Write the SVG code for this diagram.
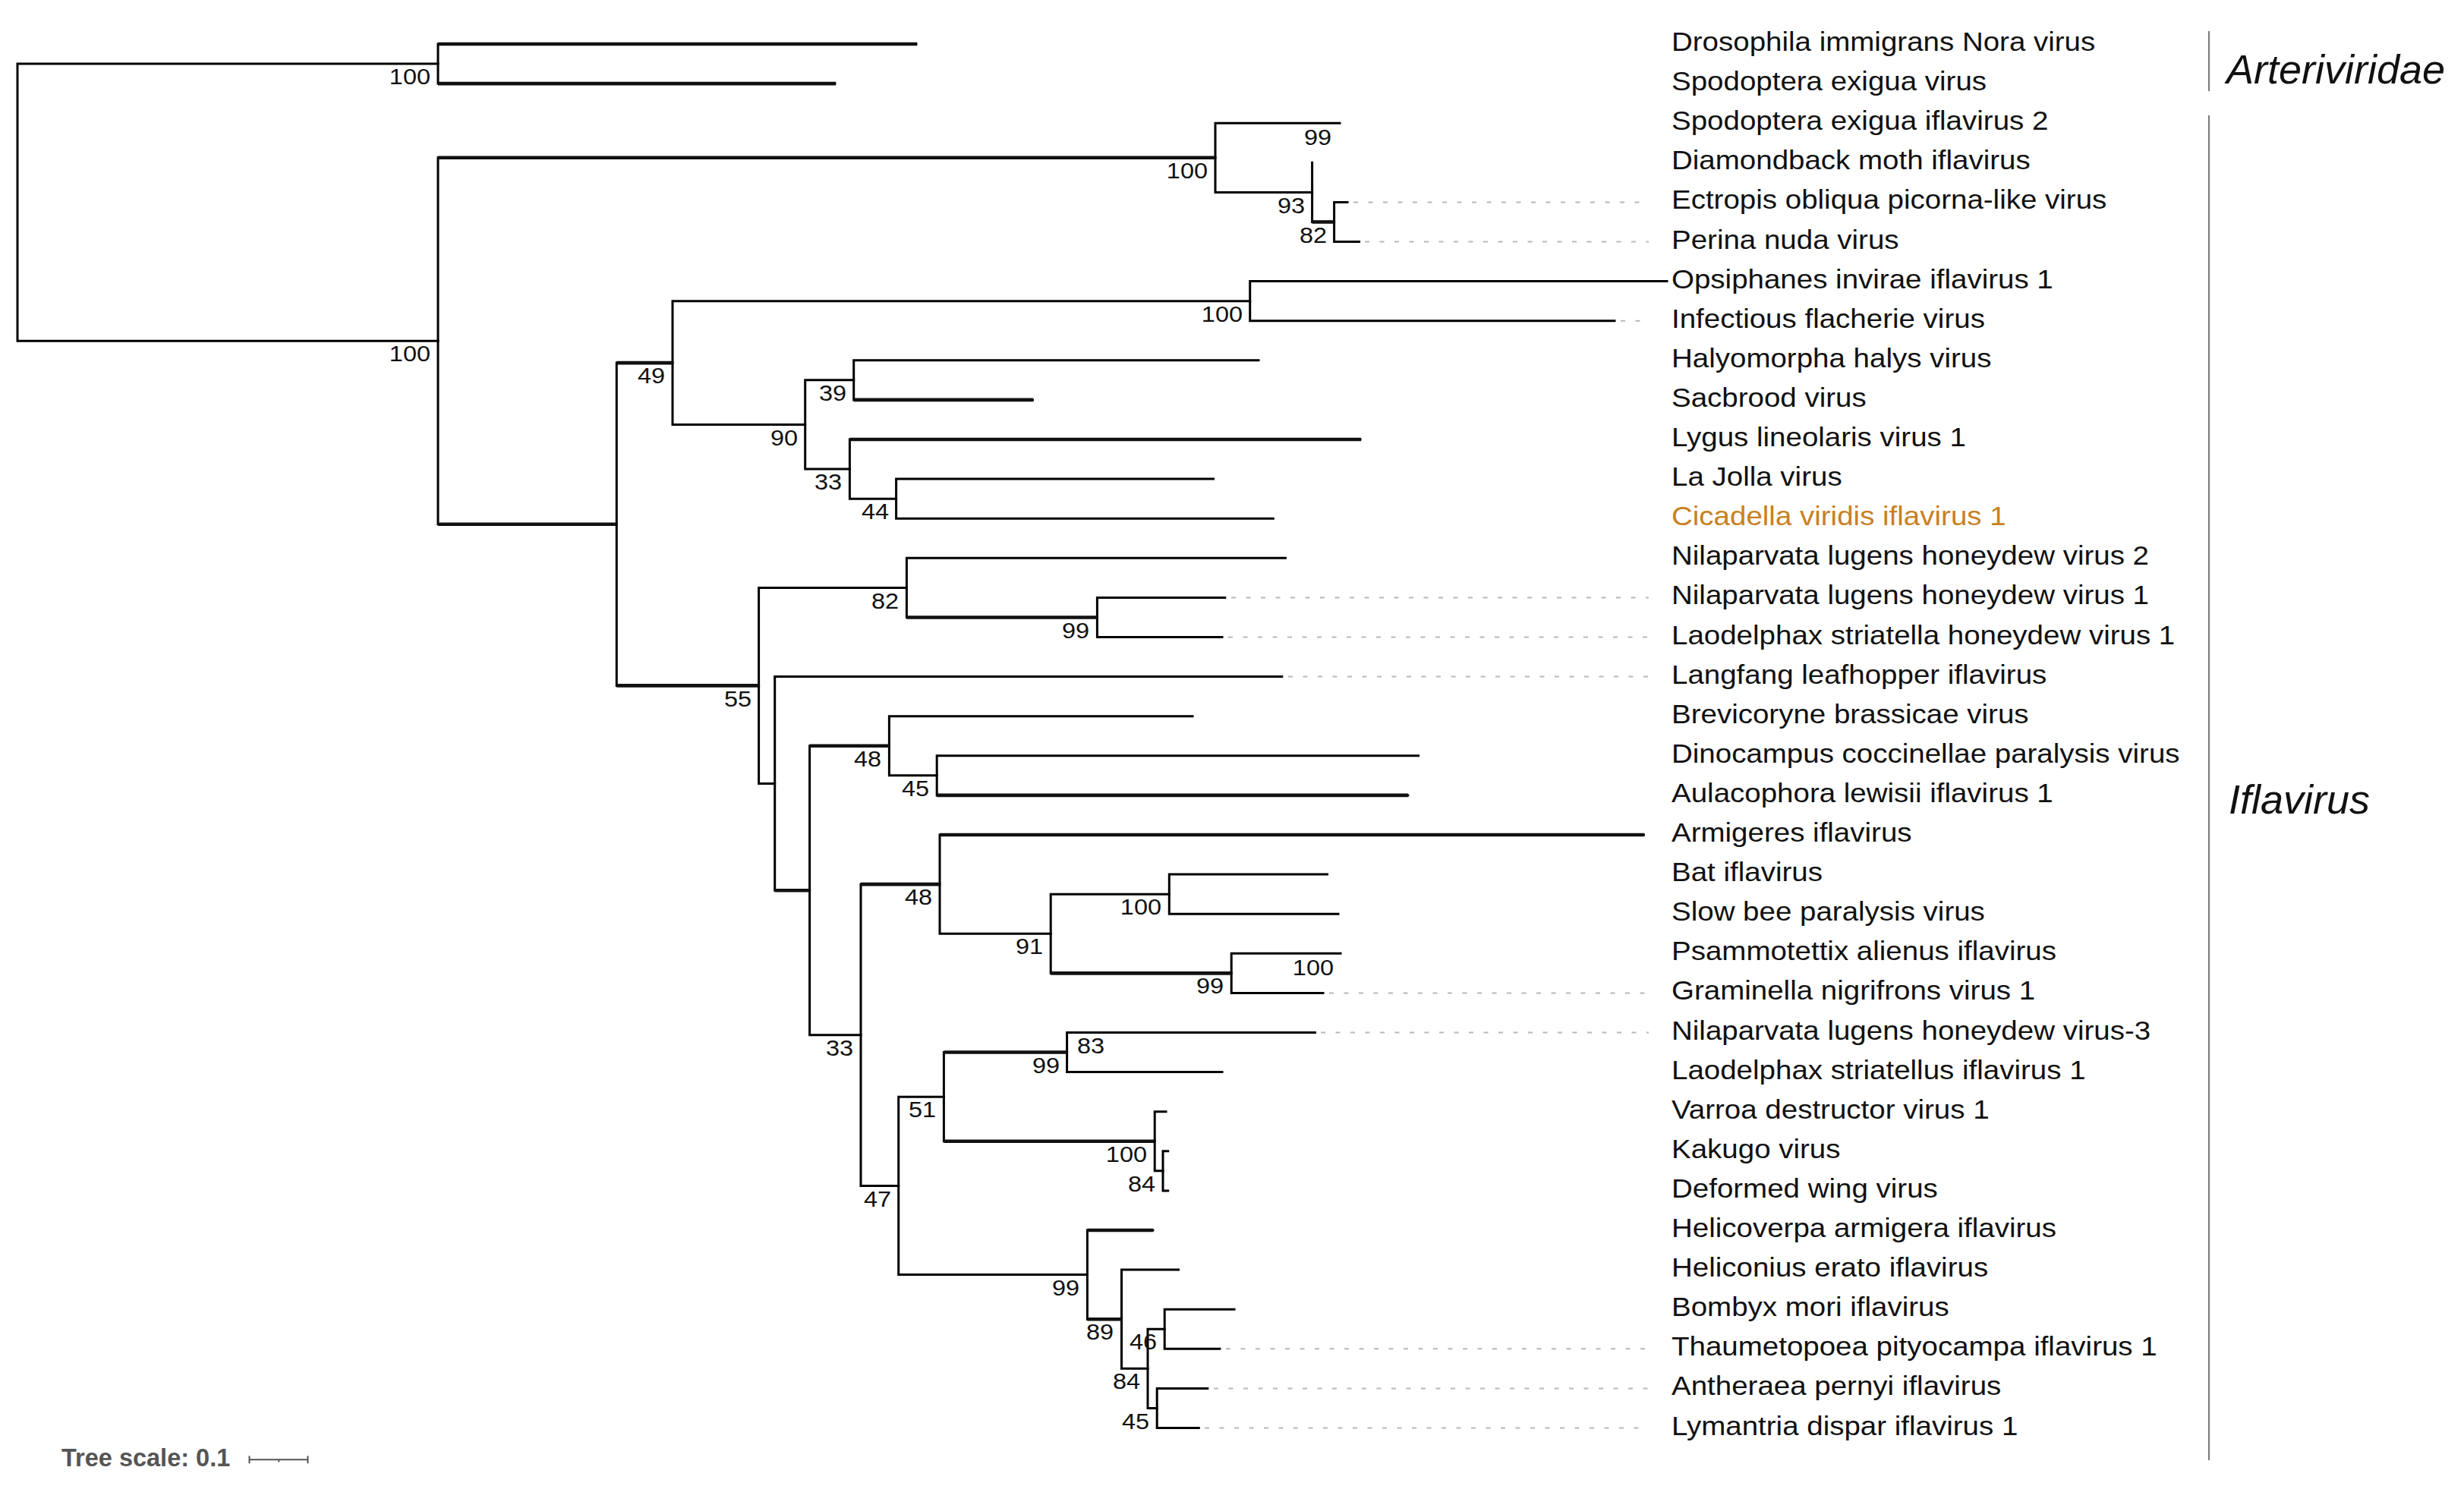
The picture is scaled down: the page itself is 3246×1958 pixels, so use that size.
<svg xmlns="http://www.w3.org/2000/svg" width="3246" height="1958" viewBox="0 0 3246 1958">
<style>
.br{fill:none;stroke:#000;stroke-width:3;stroke-linecap:square;stroke-linejoin:miter}
.tk{fill:none;stroke:#111;stroke-width:4.6;stroke-linecap:butt}
.dot{fill:none;stroke:#b8b8b8;stroke-width:2;stroke-dasharray:6 13.5}
.lf{font-family:"Liberation Sans",Arial,sans-serif;font-size:35px;fill:#111}
.bs{font-family:"Liberation Sans",Arial,sans-serif;font-size:29.5px;fill:#111;text-anchor:end}
.fam{font-family:"Liberation Sans",Arial,sans-serif;font-size:54px;font-style:italic;fill:#111}
.sep{stroke:#777;stroke-width:2}
</style>
<rect width="3246" height="1958" fill="#fff"/>
<g id="connectors">
<path class="br" d="M577,84.05 H23 V449.3 H577"/>
<path class="br" d="M1207,58 H577 V110.1 H1100"/>
<path class="br" d="M1601,207.8 H577 V690.75 H812.3"/>
<path class="br" d="M1765,162.2 H1601 V253.4 H1728.6"/>
<path class="br" d="M1728.6,214.3 V292.45 H1757.6"/>
<path class="br" d="M1775,266.4 H1757.6 V318.5 H1790.5"/>
<path class="br" d="M886,478.1 H812.3 V903.4 H999.6"/>
<path class="br" d="M1646.7,396.65 H886 V559.5 H1060.7"/>
<path class="br" d="M2196,370.6 H1646.7 V422.7 H2127"/>
<path class="br" d="M1124.7,500.85 H1060.7 V618.1 H1119.4"/>
<path class="br" d="M1658,474.8 H1124.7 V526.9 H1360.5"/>
<path class="br" d="M1792,579 H1119.4 V657.15 H1180.6"/>
<path class="br" d="M1598.5,631.1 H1180.6 V683.2 H1677.3"/>
<path class="br" d="M1194.4,774.4 H999.6 V1032.45 H1020.7"/>
<path class="br" d="M1693.4,735.3 H1194.4 V813.45 H1445.4"/>
<path class="br" d="M1613.8,787.4 H1445.4 V839.5 H1610"/>
<path class="br" d="M1688.8,891.6 H1020.7 V1173.3 H1066.6"/>
<path class="br" d="M1171.4,982.8 H1066.6 V1363.75 H1134"/>
<path class="br" d="M1571,943.7 H1171.4 V1021.85 H1234.2"/>
<path class="br" d="M1868.6,995.8 H1234.2 V1047.9 H1854.8"/>
<path class="br" d="M1238,1165.1 H1134 V1562.4 H1183.7"/>
<path class="br" d="M2165.5,1100 H1238 V1230.25 H1384.2"/>
<path class="br" d="M1540.3,1178.15 H1384.2 V1282.35 H1622.2"/>
<path class="br" d="M1748.5,1152.1 H1540.3 V1204.2 H1763"/>
<path class="br" d="M1766,1256.3 H1622.2 V1308.4 H1743"/>
<path class="br" d="M1243.4,1445.2 H1183.7 V1679.6 H1432.4"/>
<path class="br" d="M1405.6,1386.55 H1243.4 V1503.8 H1521.2"/>
<path class="br" d="M1732.4,1360.5 H1405.6 V1412.6 H1610"/>
<path class="br" d="M1536,1464.7 H1521.2 V1542.85 H1532"/>
<path class="br" d="M1538.7,1516.8 H1532 V1568.9 H1538.7"/>
<path class="br" d="M1518.9,1621 H1432.4 V1738.2 H1477.5"/>
<path class="br" d="M1552.5,1673.1 H1477.5 V1803.35 H1512"/>
<path class="br" d="M1534.2,1751.25 H1512 V1855.45 H1524.2"/>
<path class="br" d="M1626,1725.2 H1534.2 V1777.3 H1606.9"/>
<path class="br" d="M1590.8,1829.4 H1524.2 V1881.5 H1579.3"/>
<g id="thick-branches">
<path class="tk" d="M577,58 H1208"/>
<path class="tk" d="M577,110.1 H1101"/>
<path class="tk" d="M577,207.8 H1601"/>
<path class="tk" d="M577,690.75 H812.3"/>
<path class="tk" d="M812.3,478.1 H886"/>
<path class="tk" d="M812.3,903.4 H999.6"/>
<path class="tk" d="M1728.6,292.45 H1757.6"/>
<path class="tk" d="M1124.7,526.9 H1361"/>
<path class="tk" d="M1119.4,579 H1793"/>
<path class="tk" d="M1194.4,813.45 H1445.4"/>
<path class="tk" d="M1020.7,1173.3 H1066.6"/>
<path class="tk" d="M1066.6,982.8 H1171.4"/>
<path class="tk" d="M1234.2,1047.9 H1855"/>
<path class="tk" d="M1134,1165.1 H1238"/>
<path class="tk" d="M1238,1100 H2166"/>
<path class="tk" d="M1384.2,1282.35 H1622.2"/>
<path class="tk" d="M1243.4,1386.55 H1405.6"/>
<path class="tk" d="M1243.4,1503.8 H1521.2"/>
<path class="tk" d="M1432.4,1621 H1519"/>
<path class="tk" d="M1432.4,1738.2 H1477.5"/>
</g>
<g id="leader-lines">
<path class="dot" d="M1783,266.4 H2172"/>
<path class="dot" d="M1798,318.5 H2172"/>
<path class="dot" d="M2135,422.7 H2172"/>
<path class="dot" d="M1622,787.4 H2172"/>
<path class="dot" d="M1618,839.5 H2172"/>
<path class="dot" d="M1697,891.6 H2172"/>
<path class="dot" d="M1751,1308.4 H2172"/>
<path class="dot" d="M1740,1360.5 H2172"/>
<path class="dot" d="M1615,1777.3 H2172"/>
<path class="dot" d="M1599,1829.4 H2172"/>
<path class="dot" d="M1587,1881.5 H2172"/>
</g>
</g>
<g id="leaves">
<g id="leaf-0"><text class="lf" transform="translate(2202,67) scale(1.1,1)">Drosophila immigrans Nora virus</text></g>
<g id="leaf-1"><text class="lf" transform="translate(2202,119.1) scale(1.1,1)">Spodoptera exigua virus</text></g>
<g id="leaf-2"><text class="lf" transform="translate(2202,171.2) scale(1.1,1)">Spodoptera exigua iflavirus 2</text></g>
<g id="leaf-3"><text class="lf" transform="translate(2202,223.3) scale(1.1,1)">Diamondback moth iflavirus</text></g>
<g id="leaf-4"><text class="lf" transform="translate(2202,275.4) scale(1.1,1)">Ectropis obliqua picorna-like virus</text></g>
<g id="leaf-5"><text class="lf" transform="translate(2202,327.5) scale(1.1,1)">Perina nuda virus</text></g>
<g id="leaf-6"><text class="lf" transform="translate(2202,379.6) scale(1.1,1)">Opsiphanes invirae iflavirus 1</text></g>
<g id="leaf-7"><text class="lf" transform="translate(2202,431.7) scale(1.1,1)">Infectious flacherie virus</text></g>
<g id="leaf-8"><text class="lf" transform="translate(2202,483.8) scale(1.1,1)">Halyomorpha halys virus</text></g>
<g id="leaf-9"><text class="lf" transform="translate(2202,535.9) scale(1.1,1)">Sacbrood virus</text></g>
<g id="leaf-10"><text class="lf" transform="translate(2202,588) scale(1.1,1)">Lygus lineolaris virus 1</text></g>
<g id="leaf-11"><text class="lf" transform="translate(2202,640.1) scale(1.1,1)">La Jolla virus</text></g>
<g id="leaf-12"><text class="lf" transform="translate(2202,692.2) scale(1.1,1)" style="fill:#c9801f">Cicadella viridis iflavirus 1</text></g>
<g id="leaf-13"><text class="lf" transform="translate(2202,744.3) scale(1.1,1)">Nilaparvata lugens honeydew virus 2</text></g>
<g id="leaf-14"><text class="lf" transform="translate(2202,796.4) scale(1.1,1)">Nilaparvata lugens honeydew virus 1</text></g>
<g id="leaf-15"><text class="lf" transform="translate(2202,848.5) scale(1.1,1)">Laodelphax striatella honeydew virus 1</text></g>
<g id="leaf-16"><text class="lf" transform="translate(2202,900.6) scale(1.1,1)">Langfang leafhopper iflavirus</text></g>
<g id="leaf-17"><text class="lf" transform="translate(2202,952.7) scale(1.1,1)">Brevicoryne brassicae virus</text></g>
<g id="leaf-18"><text class="lf" transform="translate(2202,1004.8) scale(1.1,1)">Dinocampus coccinellae paralysis virus</text></g>
<g id="leaf-19"><text class="lf" transform="translate(2202,1056.9) scale(1.1,1)">Aulacophora lewisii iflavirus 1</text></g>
<g id="leaf-20"><text class="lf" transform="translate(2202,1109) scale(1.1,1)">Armigeres iflavirus</text></g>
<g id="leaf-21"><text class="lf" transform="translate(2202,1161.1) scale(1.1,1)">Bat iflavirus</text></g>
<g id="leaf-22"><text class="lf" transform="translate(2202,1213.2) scale(1.1,1)">Slow bee paralysis virus</text></g>
<g id="leaf-23"><text class="lf" transform="translate(2202,1265.3) scale(1.1,1)">Psammotettix alienus iflavirus</text></g>
<g id="leaf-24"><text class="lf" transform="translate(2202,1317.4) scale(1.1,1)">Graminella nigrifrons virus 1</text></g>
<g id="leaf-25"><text class="lf" transform="translate(2202,1369.5) scale(1.1,1)">Nilaparvata lugens honeydew virus-3</text></g>
<g id="leaf-26"><text class="lf" transform="translate(2202,1421.6) scale(1.1,1)">Laodelphax striatellus iflavirus 1</text></g>
<g id="leaf-27"><text class="lf" transform="translate(2202,1473.7) scale(1.1,1)">Varroa destructor virus 1</text></g>
<g id="leaf-28"><text class="lf" transform="translate(2202,1525.8) scale(1.1,1)">Kakugo virus</text></g>
<g id="leaf-29"><text class="lf" transform="translate(2202,1577.9) scale(1.1,1)">Deformed wing virus</text></g>
<g id="leaf-30"><text class="lf" transform="translate(2202,1630) scale(1.1,1)">Helicoverpa armigera iflavirus</text></g>
<g id="leaf-31"><text class="lf" transform="translate(2202,1682.1) scale(1.1,1)">Heliconius erato iflavirus</text></g>
<g id="leaf-32"><text class="lf" transform="translate(2202,1734.2) scale(1.1,1)">Bombyx mori iflavirus</text></g>
<g id="leaf-33"><text class="lf" transform="translate(2202,1786.3) scale(1.1,1)">Thaumetopoea pityocampa iflavirus 1</text></g>
<g id="leaf-34"><text class="lf" transform="translate(2202,1838.4) scale(1.1,1)">Antheraea pernyi iflavirus</text></g>
<g id="leaf-35"><text class="lf" transform="translate(2202,1890.5) scale(1.1,1)">Lymantria dispar iflavirus 1</text></g>
</g>
<g id="support-values">
<g id="node-A"><text class="bs" transform="translate(567,111) scale(1.1,1)">100</text></g>
<g id="node-B"><text class="bs" transform="translate(567,476) scale(1.1,1)">100</text></g>
<g id="node-C"><text class="bs" transform="translate(1591,235) scale(1.1,1)">100</text></g>
<g id="node-C2"><text class="bs" transform="translate(1754,191) scale(1.1,1)">99</text></g>
<g id="node-E"><text class="bs" transform="translate(1719,280.5) scale(1.1,1)">93</text></g>
<g id="node-F"><text class="bs" transform="translate(1748,319.5) scale(1.1,1)">82</text></g>
<g id="node-G"><text class="bs" transform="translate(876,505) scale(1.1,1)">49</text></g>
<g id="node-H"><text class="bs" transform="translate(1637,423.5) scale(1.1,1)">100</text></g>
<g id="node-I"><text class="bs" transform="translate(1051,586.5) scale(1.1,1)">90</text></g>
<g id="node-J"><text class="bs" transform="translate(1115,528) scale(1.1,1)">39</text></g>
<g id="node-K"><text class="bs" transform="translate(1109,645) scale(1.1,1)">33</text></g>
<g id="node-L"><text class="bs" transform="translate(1171,684) scale(1.1,1)">44</text></g>
<g id="node-M"><text class="bs" transform="translate(990,930.5) scale(1.1,1)">55</text></g>
<g id="node-N"><text class="bs" transform="translate(1184,801.5) scale(1.1,1)">82</text></g>
<g id="node-O"><text class="bs" transform="translate(1435,840.5) scale(1.1,1)">99</text></g>
<g id="node-R"><text class="bs" transform="translate(1161,1010) scale(1.1,1)">48</text></g>
<g id="node-S"><text class="bs" transform="translate(1224,1049) scale(1.1,1)">45</text></g>
<g id="node-U"><text class="bs" transform="translate(1228,1192) scale(1.1,1)">48</text></g>
<g id="node-V"><text class="bs" transform="translate(1374,1257) scale(1.1,1)">91</text></g>
<g id="node-W"><text class="bs" transform="translate(1530,1205) scale(1.1,1)">100</text></g>
<g id="node-X2"><text class="bs" transform="translate(1757,1285) scale(1.1,1)">100</text></g>
<g id="node-X"><text class="bs" transform="translate(1612,1309) scale(1.1,1)">99</text></g>
<g id="node-T"><text class="bs" transform="translate(1124,1391) scale(1.1,1)">33</text></g>
<g id="node-AA2"><text class="bs" transform="translate(1455,1388) scale(1.1,1)">83</text></g>
<g id="node-AA"><text class="bs" transform="translate(1396,1413.5) scale(1.1,1)">99</text></g>
<g id="node-Z"><text class="bs" transform="translate(1233,1472) scale(1.1,1)">51</text></g>
<g id="node-AB"><text class="bs" transform="translate(1511,1531) scale(1.1,1)">100</text></g>
<g id="node-AC"><text class="bs" transform="translate(1522,1570) scale(1.1,1)">84</text></g>
<g id="node-Y"><text class="bs" transform="translate(1174,1589.5) scale(1.1,1)">47</text></g>
<g id="node-AD"><text class="bs" transform="translate(1422,1706.5) scale(1.1,1)">99</text></g>
<g id="node-AE"><text class="bs" transform="translate(1467,1765) scale(1.1,1)">89</text></g>
<g id="node-AG"><text class="bs" transform="translate(1524,1778) scale(1.1,1)">46</text></g>
<g id="node-AF"><text class="bs" transform="translate(1502,1830) scale(1.1,1)">84</text></g>
<g id="node-AH"><text class="bs" transform="translate(1514,1882.5) scale(1.1,1)">45</text></g>
</g>
<g id="clade-labels">
<line class="sep" x1="2910" y1="41" x2="2910" y2="120"/>
<line class="sep" x1="2910" y1="152" x2="2910" y2="1924"/>
<text class="fam" x="2933" y="110">Arteriviridae</text>
<text class="fam" x="2936" y="1072">Iflavirus</text>
</g>
<g id="scale">
<text x="81" y="1931.5" style="font-family:'Liberation Sans',Arial,sans-serif;font-size:32.5px;font-weight:bold;fill:#555">Tree scale: 0.1</text>
<path d="M328.5,1923.3 H405.5 M328.5,1918.3 V1928.3 M405.5,1918.3 V1928.3 M367.3,1923.3 V1926.5" fill="none" stroke="#555" stroke-width="2"/>
</g>
</svg>
